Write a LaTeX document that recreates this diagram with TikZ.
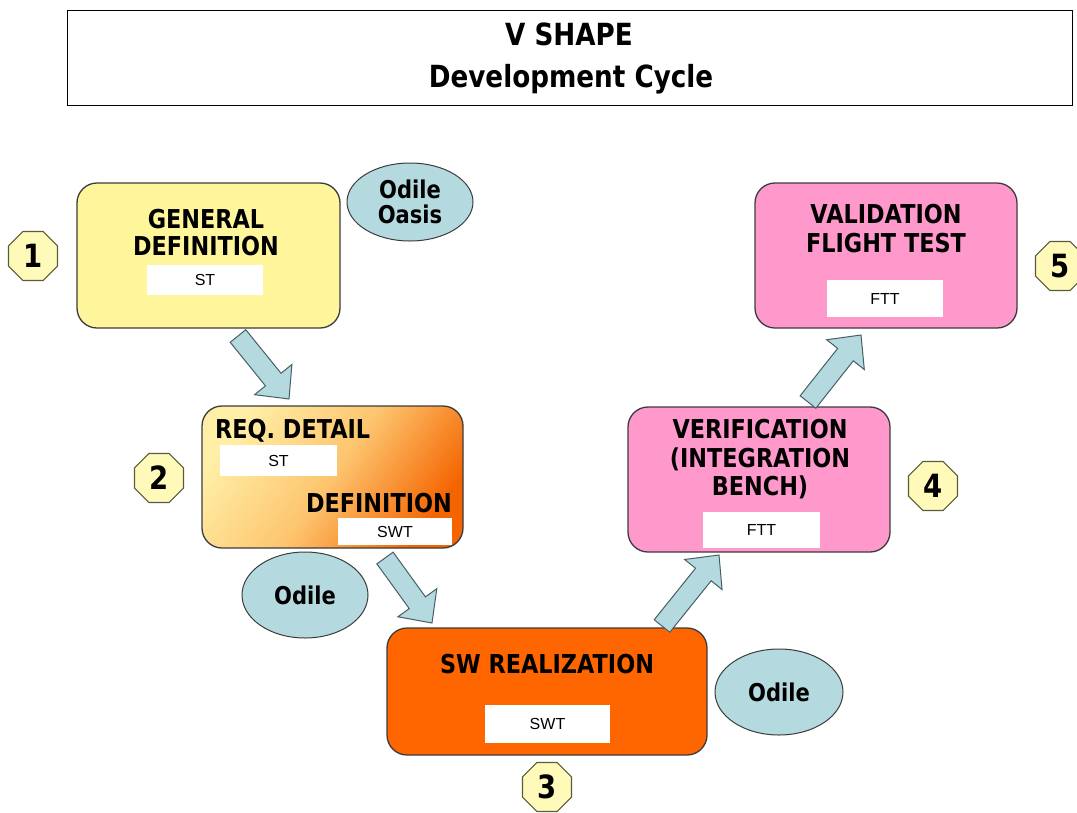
\documentclass[tikz,border=0pt]{standalone}
\usepackage{fontspec}
\newfontfamily\hdfont[FakeStretch=0.86]{DejaVu Sans}
\newfontfamily\lbfont{Liberation Sans}
\usetikzlibrary{shapes.geometric,calc}
\definecolor{yel}{RGB}{255,246,156}
\definecolor{pnk}{RGB}{255,153,204}
\definecolor{org}{RGB}{255,102,0}
\definecolor{lblue}{RGB}{180,218,224}
\definecolor{edge}{RGB}{60,60,60}
\definecolor{badgefill}{RGB}{255,250,185}
\definecolor{badgeedge}{RGB}{90,90,60}
\definecolor{arredge}{RGB}{70,95,100}
\definecolor{gA}{RGB}{255,238,165}
\definecolor{gB}{RGB}{253,196,110}
\definecolor{gC}{RGB}{244,100,0}
\tikzset{
  stage/.style={draw=edge, line width=1.3pt, rounded corners=20pt, inner sep=0pt},
  tag/.style={fill=white, inner sep=0pt, font={\lbfont\fontsize{16}{16}\selectfont}},
  head/.style={inner sep=0pt, align=center, font={\hdfont\bfseries\fontsize{26}{27}\selectfont}},
  titletext/.style={inner sep=0pt, font={\hdfont\bfseries\fontsize{30.5}{30}\selectfont}},
  oval/.style={ellipse, draw=edge, line width=1pt, fill=lblue, inner sep=0pt, align=center,
    font={\hdfont\bfseries\fontsize{24.5}{25}\selectfont}},
  badge/.style={regular polygon, regular polygon sides=8, minimum size=53pt, draw=badgeedge,
    line width=1.2pt, fill=badgefill, inner sep=0pt, font={\hdfont\bfseries\fontsize{32}{32}\selectfont}},
  barrow/.style={draw=arredge, line width=1pt, fill=lblue, line join=miter},
}
\newcommand{\blockarrow}[2]{%
  \draw[barrow] let \p1=(#1), \p2=(#2), \n1={atan2(\y2-\y1,\x2-\x1)}, \n2={veclen(\x2-\x1,\y2-\y1)} in
    [shift={(\p1)}, rotate=\n1]
    (0,-10) -- ({\n2-25},-10) -- ({\n2-25},-24) -- (\n2,0) -- ({\n2-25},24) -- ({\n2-25},10) -- (0,10) -- cycle;}
\begin{document}
\begin{tikzpicture}[x=1pt,y=-1pt]
\useasboundingbox (0,0) rectangle (1077,812);
\fill[white] (0,0) rectangle (1077,812);
% title
\node[draw=black, line width=1pt, minimum width=1005pt, minimum height=95pt, inner sep=0pt] (titlebox) at (569.5,58) {};
\node[titletext, anchor=base] (t1) at (569,45) {V SHAPE};
\node[titletext, anchor=base] (t2) at (571,87) {Development Cycle};
% stages
\node[stage, fill=yel, minimum width=263pt, minimum height=145pt] (b1) at (208.5,255.5) {};
\node[stage, top color=gA, bottom color=gC, middle color=gB, shading angle=55, minimum width=261pt, minimum height=142pt] (b2) at (332.5,477) {};
\node[stage, fill=org, minimum width=320pt, minimum height=127pt] (b3) at (547,691.5) {};
\node[stage, fill=pnk, minimum width=262pt, minimum height=145pt] (b4) at (759,479.5) {};
\node[stage, fill=pnk, minimum width=262pt, minimum height=145pt] (b5) at (886,255.5) {};
% stage texts
\node[head, anchor=north] (h1) at (206,209) {GENERAL\\DEFINITION};
\node[tag, minimum width=116pt, minimum height=30pt] (l1) at (205,280) {ST};
\node[head, anchor=base west] (h2a) at (215,438) {REQ. DETAIL};
\node[tag, minimum width=117pt, minimum height=31pt] (l2a) at (278.5,460.5) {ST};
\node[head, anchor=base east] (h2b) at (452,512) {DEFINITION};
\node[tag, minimum width=114pt, minimum height=27pt] (l2b) at (395,531.5) {SWT};
\node[head, anchor=base] (h3) at (547,673) {SW REALIZATION};
\node[tag, minimum width=125pt, minimum height=38pt] (l3) at (547.5,724) {SWT};
\node[head, anchor=north, font={\hdfont\bfseries\fontsize{26}{28.5}\selectfont}] (h4) at (760,419) {VERIFICATION\\(INTEGRATION\\BENCH)};
\node[tag, minimum width=117pt, minimum height=36pt] (l4) at (761.5,530) {FTT};
\node[head, anchor=north, font={\hdfont\bfseries\fontsize{26}{28.5}\selectfont}] (h5) at (886,204) {VALIDATION\\FLIGHT TEST};
\node[tag, minimum width=116pt, minimum height=37pt] (l5) at (885,298.5) {FTT};
% ovals
\node[oval, minimum width=126pt, minimum height=78pt] (e1) at (410,202) {Odile\\Oasis};
\node[oval, minimum width=126pt, minimum height=86pt] (e2) at (305,595) {Odile};
\node[oval, minimum width=128pt, minimum height=86pt] (e3) at (779,692) {Odile};
% badges
\node[badge] (n1) at (33,256) {1};
\node[badge] (n2) at (159,478) {2};
\node[badge] (n3) at (547,787) {3};
\node[badge] (n4) at (933,486) {4};
\node[badge] (n5) at (1060,266) {5};
% arrows
\coordinate (a1t) at (238,336);
\coordinate (a1h) at (289,399);
\coordinate (a2t) at (385,558);
\coordinate (a2h) at (432,623);
\coordinate (a3t) at (662,626);
\coordinate (a3h) at (719,555);
\coordinate (a4t) at (808,402);
\coordinate (a4h) at (861,335);
\blockarrow{a1t}{a1h}
\blockarrow{a2t}{a2h}
\blockarrow{a3t}{a3h}
\blockarrow{a4t}{a4h}
\end{tikzpicture}
\end{document}
